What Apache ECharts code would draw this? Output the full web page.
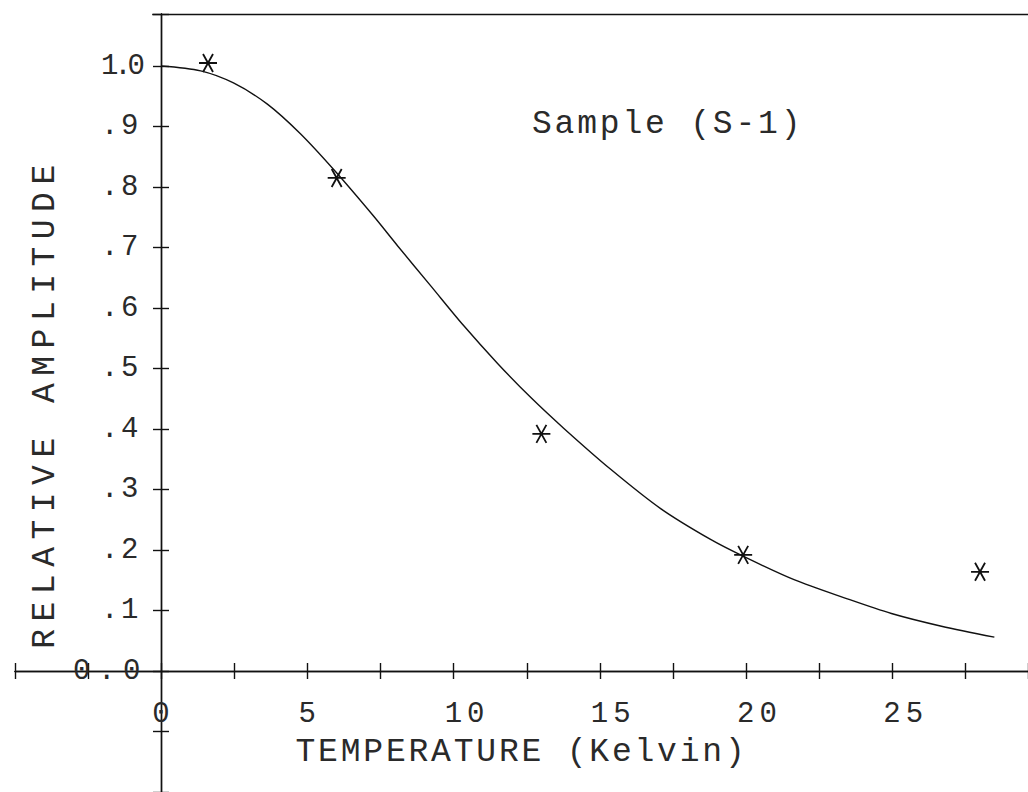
<!DOCTYPE html>
<html>
<head>
<meta charset="utf-8">
<script src="https://cdn.jsdelivr.net/npm/echarts@6/dist/echarts.min.js"></script>
<style>
html,body{margin:0;padding:0;background:#fff;}
#c{width:1028px;height:792px;}
</style>
</head>
<body>
<div id="c"></div>
<script>
// ---- data ----
const curveT = [0, 1.35, 2.47, 3.63, 4.76, 5.95, 7.26, 8.08, 9.21, 10.34, 11.51, 12.64, 13.77, 15.38, 17.09, 18.8, 19.93, 21.64, 23.36, 24.97, 26.68, 28.49];
const curveA = [1.0, 0.992, 0.972, 0.937, 0.888, 0.826, 0.752, 0.703, 0.637, 0.571, 0.508, 0.452, 0.401, 0.333, 0.268, 0.217, 0.189, 0.151, 0.121, 0.095, 0.074, 0.056];
const sampleT = [1.6, 6.0, 13.0, 19.9, 28.0];
const sampleA = [1.005, 0.815, 0.392, 0.192, 0.164];
const xTickValues = [0, 5, 10, 15, 20, 25];
const xTickLabels = ['0', '5', '10', '15', '20', '25'];
const yTickValues = [0, 1, 2, 3, 4, 5, 6, 7, 8, 9, 10]; // tenths
const yTickLabels = ['0.0', '.1', '.2', '.3', '.4', '.5', '.6', '.7', '.8', '.9', '1.0'];
const xName = 'TEMPERATURE (Kelvin)';
const yName = 'RELATIVE AMPLITUDE';
const sampleLabel = 'Sample (S-1)';

const FONT = 'Liberation Mono';
const INK = '#111';
const TXT = '#2a2a2a';

const X_MIN = -5, X_MAX = 29.64, Y_MIN = -0.2, Y_MAX = 1.086;
const GRID_L = 15, GRID_T = 14;
const X_AXIS_OFFSET = -121;   // moves x axis up to the y = 0 line
const Y_AXIS_OFFSET = -146;   // moves y axis right to the x = 0 line

function xFmt(v) {
  const i = xTickValues.findIndex(t => Math.abs(t - v) < 1e-6);
  return i >= 0 ? xTickLabels[i] : '';
}
function yFmt(v) {
  const t = Math.round(v * 10);
  if (Math.abs(v * 10 - t) > 1e-6) return '';
  const i = yTickValues.indexOf(t);
  if (i < 0) return '';
  return t === 0 ? '{z|' + yTickLabels[i] + '}' : yTickLabels[i];
}

const axisLine = { show: true, onZero: false, lineStyle: { color: INK, width: 1.4 } };
const tickStyle = { color: INK, width: 1.4 };

const chart = echarts.init(document.getElementById('c'), null, { renderer: 'svg' });
chart.setOption({
  animation: false,
  backgroundColor: '#fff',
  grid: { left: GRID_L, right: 0, top: GRID_T, bottom: 0, containLabel: false, outerBoundsMode: 'none' },
  xAxis: [
    {
      type: 'value', position: 'bottom', offset: X_AXIS_OFFSET, min: X_MIN, max: X_MAX, interval: 2.5,
      axisLine: axisLine,
      axisTick: { show: true, inside: false, length: 8, lineStyle: tickStyle },
      splitLine: { show: false },
      axisLabel: {
        show: true, formatter: xFmt, align: 'left', padding: [0, 0, 0, -9],
        margin: 29, fontFamily: FONT, fontSize: 29, color: TXT
      },
      name: xName, nameLocation: 'middle', nameGap: 65,
      nameTextStyle: { fontFamily: FONT, fontSize: 33, color: TXT }
    },
    {
      type: 'value', position: 'bottom', offset: X_AXIS_OFFSET, min: X_MIN, max: X_MAX, interval: 2.5,
      axisLine: axisLine,
      axisTick: { show: true, inside: true, length: 8, lineStyle: tickStyle },
      splitLine: { show: false },
      axisLabel: { show: false }
    }
  ],
  yAxis: [
    {
      type: 'value', position: 'left', offset: Y_AXIS_OFFSET, min: Y_MIN, max: Y_MAX, interval: 0.1,
      axisLine: axisLine,
      axisTick: { show: true, inside: false, length: 8, lineStyle: tickStyle },
      splitLine: { show: false },
      axisLabel: {
        show: true, formatter: yFmt, align: 'left', margin: 60,
        fontFamily: FONT, fontSize: 29, color: TXT,
        rich: { z: { fontFamily: FONT, fontSize: 29, color: TXT, padding: [0, 0, 0, -28] } }
      },
      name: yName, nameLocation: 'middle', nameGap: 96, nameRotate: 90,
      nameTextStyle: { fontFamily: FONT, fontSize: 33, color: TXT }
    },
    {
      type: 'value', position: 'left', offset: Y_AXIS_OFFSET, min: Y_MIN, max: Y_MAX, interval: 0.1,
      axisLine: axisLine,
      axisTick: { show: true, inside: true, length: 8, lineStyle: tickStyle },
      splitLine: { show: false },
      axisLabel: { show: false }
    }
  ],
  graphic: [
    {
      type: 'text', left: 532, top: 108,
      style: { text: sampleLabel, font: '33px "' + FONT + '"', fill: TXT }
    }
  ],
  series: [
    {
      type: 'line', xAxisIndex: 0, yAxisIndex: 0,
      data: curveT.map((t, i) => [t, curveA[i]]),
      smooth: 0.3, showSymbol: false, symbol: 'none',
      lineStyle: { color: INK, width: 1.4 },
      silent: true,
      markLine: {
        silent: true, symbol: 'none', label: { show: false },
        lineStyle: { color: INK, width: 1.4, type: 'solid' },
        data: [[{ coord: [-0.31, Y_MAX] }, { coord: [X_MAX, Y_MAX] }]]
      }
    },
    {
      type: 'scatter', xAxisIndex: 0, yAxisIndex: 0,
      data: sampleT.map((t, i) => [t, sampleA[i]]),
      symbol: 'path://M0,9L18,9M4,1L14,17M14,1L4,17',
      symbolSize: 18,
      itemStyle: { color: 'rgba(0,0,0,0)', borderColor: INK, borderWidth: 1.8, opacity: 1 },
      silent: true
    }
  ]
});

function spaceText() {
  const svg = document.querySelector('#c svg');
  if (!svg) return;
  svg.querySelectorAll('text').forEach(t => {
    const s = t.textContent;
    let ls = null;
    if (s === sampleLabel || s === xName) ls = 2.8;
    else if (s === yName) ls = 7.5;
    else if (xTickLabels.indexOf(s) >= 0) ls = 5;
    else if (s === '0.0') ls = 7.6;
    else if (s === '1.0') ls = -4.2;
    else if (yTickLabels.indexOf(s) >= 0) ls = 2.6;
    if (ls !== null) t.setAttribute('letter-spacing', ls);
  });
}
spaceText();
chart.on('finished', spaceText);
setTimeout(spaceText, 50);
</script>
</body>
</html>
